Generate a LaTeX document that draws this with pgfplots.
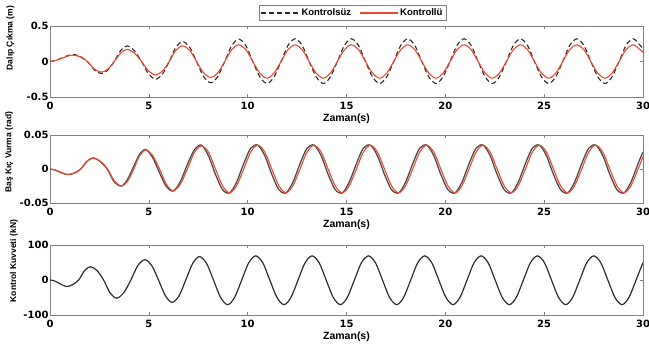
\documentclass[border=0pt]{standalone}
\usepackage{fontspec}
\setmainfont{Liberation Sans}
\newfontfamily\tickfont{DejaVu Sans}
\usepackage{pgfplots}
\pgfplotsset{compat=1.18}
\usepackage{pgfplotstable}
\definecolor{ctrl}{RGB}{240,72,48}
\definecolor{unc}{RGB}{45,45,45}
\definecolor{axgray}{RGB}{128,128,128}

\pgfplotstableread{
t u c
0.00 0.000 0.000
0.30 0.016 0.015
0.60 0.050 0.045
0.90 0.082 0.075
1.18 0.100 0.090
1.53 0.071 0.064
1.89 0.000 0.000
2.25 -0.120 -0.106
2.60 -0.170 -0.150
2.93 -0.120 -0.106
3.25 0.000 0.000
3.58 0.156 0.120
3.90 0.220 0.170
4.26 0.156 0.120
4.63 0.000 0.000
4.99 -0.177 -0.134
5.35 -0.250 -0.190
5.69 -0.177 -0.134
6.03 0.000 0.000
6.36 0.198 0.156
6.70 0.280 0.220
7.06 0.205 0.160
7.41 0 0
7.77 -0.212 -0.160
8.13 -0.300 -0.225
8.48 -0.215 -0.163
8.84 0 0
9.19 0.222 0.166
9.55 0.315 0.235
9.91 0.222 0.166
10.26 0 0
10.62 -0.219 -0.166
10.98 -0.310 -0.235
11.33 -0.219 -0.166
11.69 0 0
12.04 0.226 0.166
12.40 0.320 0.235
12.76 0.226 0.166
13.11 0 0
13.47 -0.219 -0.166
13.83 -0.310 -0.235
14.18 -0.219 -0.166
14.54 0 0
14.89 0.226 0.166
15.25 0.320 0.235
15.61 0.226 0.166
15.96 0 0
16.32 -0.219 -0.166
16.68 -0.310 -0.235
17.03 -0.219 -0.166
17.39 0 0
17.74 0.226 0.166
18.10 0.320 0.235
18.46 0.226 0.166
18.81 0 0
19.17 -0.219 -0.166
19.53 -0.310 -0.235
19.88 -0.219 -0.166
20.24 0 0
20.59 0.226 0.166
20.95 0.320 0.235
21.31 0.226 0.166
21.66 0 0
22.02 -0.219 -0.166
22.38 -0.310 -0.235
22.73 -0.219 -0.166
23.09 0 0
23.44 0.226 0.166
23.80 0.320 0.235
24.16 0.226 0.166
24.51 0 0
24.87 -0.219 -0.166
25.23 -0.310 -0.235
25.58 -0.219 -0.166
25.94 0 0
26.29 0.226 0.166
26.65 0.320 0.235
27.01 0.226 0.166
27.36 0 0
27.72 -0.219 -0.166
28.08 -0.310 -0.235
28.43 -0.219 -0.166
28.79 0 0
29.14 0.226 0.166
29.50 0.320 0.235
29.86 0.226 0.166
30.00 0.180 0.130
}\heave

\pgfplotstableread{
t c u
0.00 0 0
0.25 -0.0015 -0.0015
0.50 -0.0045 -0.0045
0.70 -0.0068 -0.0068
0.93 -0.0080 -0.0082
1.25 -0.0057 -0.0058
1.56 0.0000 0.0002
1.88 0.0113 0.0116
2.19 0.0160 0.0163
2.55 0.0113 0.0108
2.91 0.0000 -0.0008
3.26 -0.0177 -0.0195
3.62 -0.0250 -0.0250
3.93 -0.0177 -0.0150
4.24 0.0000 0.0040
4.54 0.0198 0.0220
4.85 0.0280 0.0287
5.20 0.0198 0.0165
5.54 0.0000 -0.0055
5.89 -0.0226 -0.0260
6.23 -0.0320 -0.0325
6.59 -0.0226 -0.0190
6.95 0.0000 0.0065
7.30 0.0240 0.0280
7.66 0.0340 0.0351
8.02 0.0247 0.0193
8.37 0 -0.0078
8.73 -0.0247 -0.0304
9.09 -0.0350 -0.0351
9.44 -0.0247 -0.0193
9.80 0 0.0078
10.15 0.0247 0.0304
10.51 0.0350 0.0351
10.87 0.0247 0.0193
11.22 0 -0.0078
11.58 -0.0247 -0.0304
11.94 -0.0350 -0.0351
12.29 -0.0247 -0.0193
12.65 0 0.0078
13.00 0.0247 0.0304
13.36 0.0350 0.0351
13.72 0.0247 0.0193
14.07 0 -0.0078
14.43 -0.0247 -0.0304
14.79 -0.0350 -0.0351
15.14 -0.0247 -0.0193
15.50 0 0.0078
15.85 0.0247 0.0304
16.21 0.0350 0.0351
16.57 0.0247 0.0193
16.92 0 -0.0078
17.28 -0.0247 -0.0304
17.64 -0.0350 -0.0351
17.99 -0.0247 -0.0193
18.35 0 0.0078
18.70 0.0247 0.0304
19.06 0.0350 0.0351
19.42 0.0247 0.0193
19.77 0 -0.0078
20.13 -0.0247 -0.0304
20.49 -0.0350 -0.0351
20.84 -0.0247 -0.0193
21.20 0 0.0078
21.55 0.0247 0.0304
21.91 0.0350 0.0351
22.27 0.0247 0.0193
22.62 0 -0.0078
22.98 -0.0247 -0.0304
23.34 -0.0350 -0.0351
23.69 -0.0247 -0.0193
24.05 0 0.0078
24.40 0.0247 0.0304
24.76 0.0350 0.0351
25.12 0.0247 0.0193
25.47 0 -0.0078
25.83 -0.0247 -0.0304
26.19 -0.0350 -0.0351
26.54 -0.0247 -0.0193
26.90 0 0.0078
27.25 0.0247 0.0304
27.61 0.0350 0.0351
27.97 0.0247 0.0193
28.32 0 -0.0078
28.68 -0.0247 -0.0304
29.04 -0.0350 -0.0351
29.39 -0.0247 -0.0193
29.75 0 0.0078
30.00 0.0183 0.0251
}\pitch

\pgfplotstableread{
t f
0.00 0
0.20 -2
0.45 -9
0.65 -15
0.84 -19
1.14 -13.4
1.45 0
1.75 26.9
2.05 38
2.38 26.9
2.71 0
3.04 -36.8
3.37 -52
3.73 -36.8
4.09 0
4.44 41
4.80 58
5.15 41
5.49 0
5.84 -45.2
6.18 -64
6.53 -45.2
6.87 0
7.22 47.4
7.56 67
7.92 47.4
8.27 0
8.63 -49.8
8.99 -70.5
9.34 -49.8
9.70 0
10.05 48.8
10.41 69
10.77 48.8
11.12 0
11.48 -49.8
11.84 -70.5
12.19 -49.8
12.55 0
12.90 48.8
13.26 69
13.62 48.8
13.97 0
14.33 -49.8
14.69 -70.5
15.04 -49.8
15.40 0
15.75 48.8
16.11 69
16.47 48.8
16.82 0
17.18 -49.8
17.54 -70.5
17.89 -49.8
18.25 0
18.60 48.8
18.96 69
19.32 48.8
19.67 0
20.03 -49.8
20.39 -70.5
20.74 -49.8
21.10 0
21.45 48.8
21.81 69
22.17 48.8
22.52 0
22.88 -49.8
23.24 -70.5
23.59 -49.8
23.95 0
24.30 48.8
24.66 69
25.02 48.8
25.37 0
25.73 -49.8
26.09 -70.5
26.44 -49.8
26.80 0
27.15 48.8
27.51 69
27.87 48.8
28.22 0
28.58 -49.8
28.94 -70.5
29.29 -49.8
29.65 0
30.00 50
}\force

\pgfplotsset{
  myaxis/.style={
    scale only axis, width=593pt,
    xmin=0, xmax=30, xtick={0,5,...,30},
    axis line style={axgray, line width=0.8pt},
    tick style={axgray, line width=0.5pt}, major tick length=3pt,
    tick label style={font=\tickfont\bfseries\fontsize{10}{12}\selectfont},
    /pgf/number format/assume math mode=true,
    yticklabel style={/pgf/number format/fixed, xshift=2pt},
    xticklabel style={yshift=-1.5pt},
    scaled y ticks=false,
    xlabel={Zaman(s)},
    xlabel style={font=\bfseries\fontsize{10.5}{12}\selectfont, inner sep=1pt},
    ylabel style={font=\bfseries\fontsize{8.5}{10}\selectfont, anchor=center},
    clip=true,
  }
}

\begin{document}
\begin{tikzpicture}[x=1pt,y=1pt]
\useasboundingbox (0,0) rectangle (649,348);
\begin{axis}[myaxis, at={(50pt,251pt)}, anchor=south west, height=71pt,
  ymin=-0.5, ymax=0.5, ytick={-0.5,0,0.5},
  ylabel={Dalıp Çıkma (m)},
  ylabel style={at={(axis description cs:-0.0666,0.83)}},
  legend style={at={(0.51,1)}, anchor=south, yshift=5pt, draw=axgray, line width=0.6pt,
    font=\bfseries\fontsize{9.5}{11}\selectfont, inner sep=1.5pt},
  legend columns=2,
  legend image code/.code={\draw[#1] (0pt,0pt) -- (38pt,0pt);},
  /tikz/every even column/.append style={column sep=6pt},
]
\addplot[unc, line width=1.1pt, dash pattern=on 5pt off 3pt, smooth] table[x=t,y=u] {\heave};
\addlegendentry{Kontrolsüz}
\addplot[ctrl, line width=1.1pt, smooth] table[x=t,y=c] {\heave};
\addlegendentry{Kontrollü}
\end{axis}

\begin{axis}[myaxis, at={(50pt,145pt)}, anchor=south west, height=68pt,
  ymin=-0.05, ymax=0.05, ytick={-0.05,0,0.05},
  ylabel={Baş Kıç Vurma (rad)},
  ylabel style={at={(axis description cs:-0.069,0.75)}},
]
\addplot[unc!85, line width=1.3pt, smooth] table[x=t,y=u] {\pitch};
\addplot[ctrl, line width=1.1pt, smooth] table[x=t,y=c] {\pitch};
\end{axis}

\begin{axis}[myaxis, at={(50pt,33pt)}, anchor=south west, height=70pt,
  ymin=-100, ymax=100, ytick={-100,0,100},
  ylabel={Kontrol Kuvveti (kN)},
  ylabel style={at={(axis description cs:-0.0607,0.77)}},
]
\addplot[unc, line width=1.2pt, smooth] table[x=t,y=f] {\force};
\end{axis}
\end{tikzpicture}
\end{document}
